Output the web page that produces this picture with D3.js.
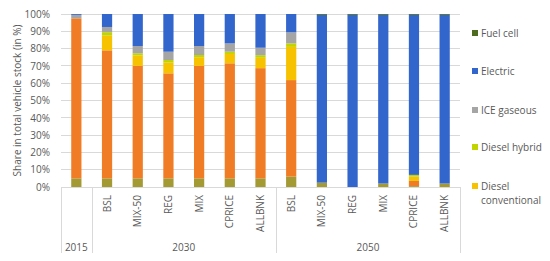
<!DOCTYPE html>
<html>
<head>
<meta charset="utf-8">
<script src="https://cdn.jsdelivr.net/npm/d3@7/dist/d3.min.js"></script>
<style>
  html, body { margin: 0; padding: 0; background: #ffffff; }
  svg { display: block; }
  text { font-family: "Open Sans", "DejaVu Sans", sans-serif; fill: #595959; }
</style>
</head>
<body>
<svg id="chart" width="550" height="261"></svg>
<script>
// ---- data ----
const scenarios = ["", "BSL", "MIX-50", "REG", "MIX", "CPRICE", "ALLBNK", "BSL", "MIX-50", "REG", "MIX", "CPRICE", "ALLBNK"];
const years     = ["2015", "2030", "2030", "2030", "2030", "2030", "2030", "2050", "2050", "2050", "2050", "2050", "2050"];
const yearGroups = ["2015", "2030", "2050"];
const yTicks = [0, 10, 20, 30, 40, 50, 60, 70, 80, 90, 100];

// stacked from bottom to top (values in %)
const seriesNames = ["Gasoline hybrid", "Gasoline conventional", "Diesel conventional", "Diesel hybrid", "ICE gaseous", "Electric", "Fuel cell"];
const gasolineHybrid       = [5,   5,    5,    5,    5,    5,    5,    6,    2.5,  0,    2,    0.5,  2];
const gasolineConventional = [92.5,74,   65,   60.7, 65,   66.5, 63.7, 55.8, 0,    0,    0,    3,    0];
const dieselConventional   = [0,   8.5,  6,    6.2,  5,    5.4,  6,    19.2, 0,    0,    0,    2.5,  0];
const dieselHybrid         = [0,   2,    1.3,  1.5,  1.3,  1.3,  1.5,  2,    0,    0,    0,    1,    0];
const iceGaseous           = [2,   3,    4.2,  4.8,  5.2,  4.8,  4.3,  6.4,  0,    0,    0,    0,    0];
const electric             = [0.5, 7.5,  18.5, 21.8, 18.5, 17,   19.5, 10.6, 97,   99.5, 97.5, 92.5, 97.5];
const fuelCell             = [0,   0,    0,    0,    0,    0,    0,    0,    0.5,  0.5,  0.5,  0.5,  0.5];
const seriesValues = [gasolineHybrid, gasolineConventional, dieselConventional, dieselHybrid, iceGaseous, electric, fuelCell];
const seriesColors = ["#a39a34", "#f07d26", "#f7c200", "#c2d400", "#a5a5a5", "#3366cc", "#4f6b1f"];
// legend shows (top to bottom)
const legendNames = ["Fuel cell", "Electric", "ICE gaseous", "Diesel hybrid", "Diesel conventional"];

// ---- layout ----
const svg = d3.select("#chart");
const plot = { left: 61, right: 460, top: 14, bottom: 187 };

const keys = scenarios.map((s, i) => i);
const x = d3.scaleBand().domain(keys).range([plot.left, plot.right]).paddingInner(2 / 3).paddingOuter(1 / 3);
const y = d3.scaleLinear().domain([0, 100]).range([plot.bottom, plot.top]);

// gridlines
svg.append("g").selectAll("line").data(yTicks.slice(1)).join("line")
  .attr("x1", plot.left).attr("x2", plot.right)
  .attr("y1", d => y(d)).attr("y2", d => y(d))
  .attr("stroke", "#d9d9d9").attr("stroke-width", 1).attr("shape-rendering", "crispEdges");

// y axis labels
const yAxis = d3.axisLeft(y).tickValues(yTicks).tickFormat(d => d + "%").tickSize(0).tickPadding(11);
const yg = svg.append("g").attr("transform", `translate(${plot.left},0)`).call(yAxis);
yg.select(".domain").remove();
yg.selectAll("text").style("font-size", "10px").attr("fill", "#595959").style("font-family", "'Open Sans', sans-serif");

// stacked data
const table = keys.map(i => {
  const row = { key: i };
  seriesNames.forEach((n, j) => row[n] = seriesValues[j][i]);
  return row;
});
const stack = d3.stack().keys(seriesNames)(table);

svg.append("g").selectAll("g").data(stack).join("g")
  .attr("fill", (d, i) => seriesColors[i])
  .selectAll("rect").data(d => d).join("rect")
  .attr("x", d => x(d.data.key))
  .attr("width", x.bandwidth())
  .attr("y", d => y(d[1]))
  .attr("height", d => Math.max(0, y(d[0]) - y(d[1])));

// x axis line
svg.append("line").attr("x1", plot.left).attr("x2", plot.right)
  .attr("y1", plot.bottom + 0.5).attr("y2", plot.bottom + 0.5)
  .attr("stroke", "#d9d9d9");

// category labels (rotated)
const xAxis = d3.axisBottom(x).tickFormat(i => scenarios[i]).tickSize(0);
const xg = svg.append("g").attr("transform", `translate(0,${plot.bottom})`).call(xAxis);
xg.select(".domain").remove();
xg.selectAll("text")
  .style("font-size", "10px").attr("fill", "#595959")
  .style("font-family", "'Open Sans', sans-serif")
  .attr("text-anchor", "end")
  .attr("transform", "rotate(-90)")
  .attr("x", -8).attr("y", 0).attr("dy", "0.35em");

// group separators and labels
const step = x.step();
const groupSpans = yearGroups.map(g => {
  const idx = keys.filter(i => years[i] === g);
  const x0 = x(idx[0]) - x.paddingInner() * step / 2 - (idx[0] === 0 ? 0 : 0);
  const first = x(idx[0]) + x.bandwidth() / 2 - step / 2;
  const last = x(idx[idx.length - 1]) + x.bandwidth() / 2 + step / 2;
  return { g, first, last };
});
const sepX = [groupSpans[0].first].concat(groupSpans.map(s => s.last));
svg.append("g").selectAll("line").data(sepX).join("line")
  .attr("x1", d => Math.round(d) + 0.5).attr("x2", d => Math.round(d) + 0.5)
  .attr("y1", plot.bottom).attr("y2", 253)
  .attr("stroke", "#d9d9d9");
svg.append("g").selectAll("text").data(groupSpans).join("text")
  .attr("x", d => (d.first + d.last) / 2).attr("y", 251)
  .attr("text-anchor", "middle").style("font-size", "10px")
  .text(d => d.g);

// y axis title
svg.append("text")
  .attr("transform", `translate(21,${(plot.top + plot.bottom) / 2}) rotate(-90)`)
  .attr("text-anchor", "middle").style("font-size", "10px")
  .text("Share in total vehicle stock (in %)");

// legend
const legendY = [33, 71, 110, 147, 186];
const lg = svg.append("g").selectAll("g").data(legendNames).join("g")
  .attr("transform", (d, i) => `translate(472,${legendY[i]})`);
lg.append("rect").attr("x", 0).attr("y", -3).attr("width", 6).attr("height", 6)
  .attr("fill", d => seriesColors[seriesNames.indexOf(d)]);
lg.each(function(d) {
  const t = d3.select(this).append("text").attr("x", 9).attr("y", 0).attr("dy", "0.35em").style("font-size", "10px");
  if (d === "Diesel conventional") {
    t.append("tspan").attr("x", 9).text("Diesel");
    t.append("tspan").attr("x", 9).attr("dy", "1.4em").text("conventional");
  } else {
    t.text(d);
  }
});
</script>
</body>
</html>
